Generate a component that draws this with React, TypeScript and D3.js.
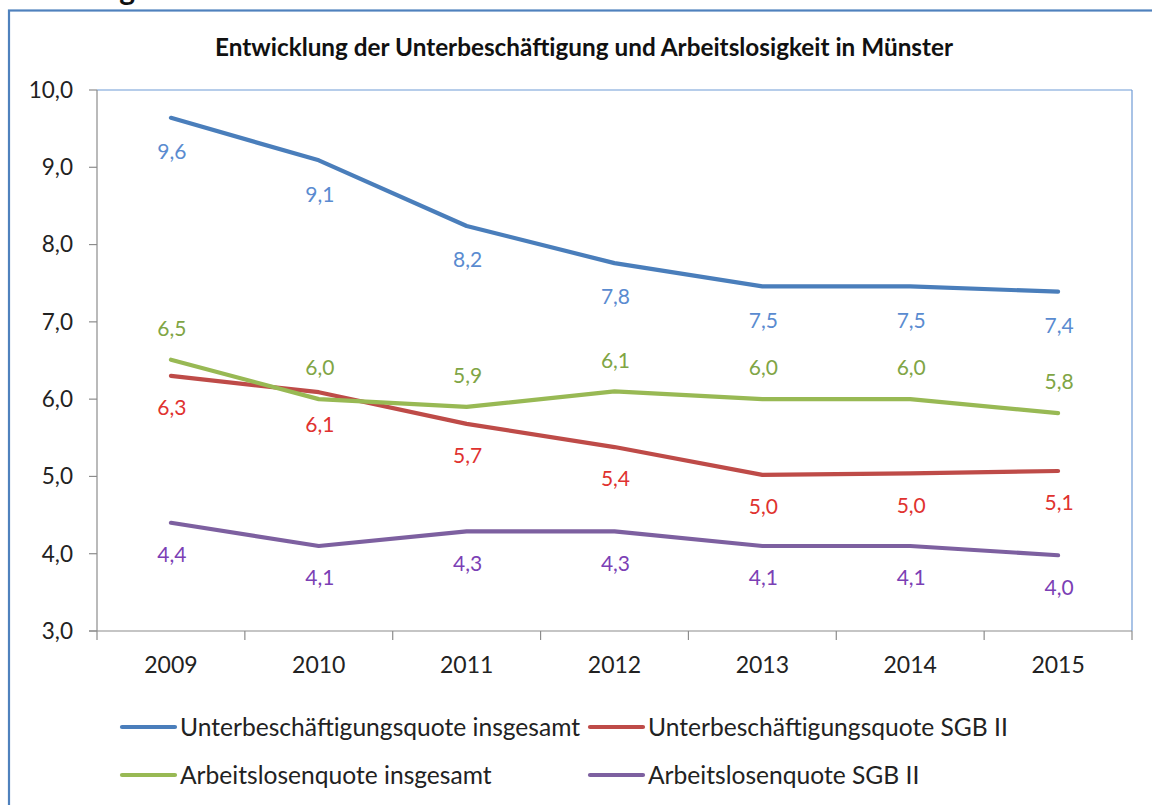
import React from 'react';
import * as d3 from 'd3';

const years = ['2009', '2010', '2011', '2012', '2013', '2014', '2015'];
const ubInsgesamt = [9.64, 9.09, 8.24, 7.76, 7.46, 7.46, 7.39];
const ubSgb2 = [6.3, 6.09, 5.68, 5.38, 5.02, 5.04, 5.07];
const alInsgesamt = [6.51, 6.0, 5.9, 6.1, 6.0, 6.0, 5.82];
const alSgb2 = [4.4, 4.1, 4.29, 4.29, 4.1, 4.1, 3.98];
const yTicks = [3, 4, 5, 6, 7, 8, 9, 10];

const seriesNames = [
  'Unterbeschäftigungsquote insgesamt',
  'Unterbeschäftigungsquote SGB II',
  'Arbeitslosenquote insgesamt',
  'Arbeitslosenquote SGB II',
];

const title = 'Entwicklung der Unterbeschäftigung und Arbeitslosigkeit in Münster';

const font = 'Lato, "Open Sans", sans-serif';
const textColor = '#222';
const axisColor = '#8c8c8c';

const fmt = (v: number) => v.toFixed(1).replace('.', ',');

const App = () => {
  const svgWidth = 1152;
  const svgHeight = 805;
  const plot = { left: 97, right: 1132, top: 90, bottom: 631 };

  const x = d3.scaleBand().domain(years).range([plot.left, plot.right]);
  const y = d3.scaleLinear().domain([3, 10]).range([plot.bottom, plot.top]);
  const xc = (d: string) => (x(d) as number) + x.bandwidth() / 2;

  const series = [
    { name: seriesNames[0], values: ubInsgesamt, color: '#4A7EBB', labelColor: '#5A8BD0', dy: 34 },
    { name: seriesNames[1], values: ubSgb2, color: '#BE4B48', labelColor: '#E0322F', dy: 32 },
    { name: seriesNames[2], values: alInsgesamt, color: '#98B954', labelColor: '#7FA545', dy: -31 },
    { name: seriesNames[3], values: alSgb2, color: '#7D60A0', labelColor: '#7B3FB5', dy: 32 },
  ];

  const line = d3.line<number>()
    .x((_, i) => xc(years[i]))
    .y(d => y(d));

  const legendPos = [
    { x: 122, y: 727 },
    { x: 590, y: 727 },
    { x: 122, y: 775 },
    { x: 590, y: 775 },
  ];

  return (
    <svg width={svgWidth} height={svgHeight} style={{ position: 'absolute', left: 0, top: 0 }} fontFamily={font}>
      <rect x={0} y={0} width={svgWidth} height={svgHeight} fill="#fff" />
      {/* cut-off caption above the chart */}
      <text x={135} y={0} textAnchor="end" fontSize={30} fontWeight="bold" fill="#111">Abbildung</text>
      {/* chart frame */}
      <rect x={9} y={10.5} width={1160} height={820} fill="none" stroke="#4F81BD" strokeWidth={2.2} />

      <text x={584} y={47} dy="0.35em" textAnchor="middle" fontSize={24.3} fontWeight="bold" fill="#111">{title}</text>

      {/* plot area border */}
      <line x1={plot.left} x2={plot.right} y1={plot.top} y2={plot.top} stroke="#6F9BD6" strokeWidth={1.2} />
      <line x1={plot.right} x2={plot.right} y1={plot.top} y2={plot.bottom} stroke="#6F9BD6" strokeWidth={1.2} />

      {/* y axis */}
      <g fontSize={22.5} fill={textColor} textAnchor="end">
        <line x1={plot.left} x2={plot.left} y1={plot.top} y2={plot.bottom} stroke={axisColor} strokeWidth={1.2} />
        {yTicks.map(t => (
          <g key={t} transform={`translate(0,${y(t)})`}>
            <line x1={plot.left - 8} x2={plot.left} stroke={axisColor} strokeWidth={1.2} />
            <text x={73} dy="0.35em" fill={textColor}>{fmt(t)}</text>
          </g>
        ))}
      </g>

      {/* x axis */}
      <g fontSize={23} textAnchor="middle">
        <line x1={plot.left - 8} x2={plot.right} y1={plot.bottom} y2={plot.bottom} stroke={axisColor} strokeWidth={1.2} />
        {[...years.map(d => x(d) as number), plot.right].map((p, i) => (
          <line key={i} x1={p} x2={p} y1={plot.bottom} y2={plot.bottom + 9} stroke={axisColor} strokeWidth={1.2} />
        ))}
        {years.map(d => (
          <text key={d} x={xc(d)} y={plot.bottom + 34} dy="0.35em" fill={textColor}>{d}</text>
        ))}
      </g>

      {/* lines */}
      {series.map(s => (
        <path key={s.name} d={line(s.values) || ''} fill="none" stroke={s.color} strokeWidth={4.2}
          strokeLinecap="round" strokeLinejoin="round" />
      ))}

      {/* data labels */}
      {series.map(s => (
        <g key={s.name + 'l'} fontSize={21} textAnchor="middle" fill={s.labelColor}>
          {s.values.map((v, i) => (
            <text key={i} x={xc(years[i]) + 1} y={y(v) + s.dy} dy="0.35em">{fmt(v)}</text>
          ))}
        </g>
      ))}

      {/* legend */}
      {series.map((s, i) => (
        <g key={s.name + 'g'} transform={`translate(${legendPos[i].x},${legendPos[i].y})`}>
          <line x1={0} x2={53} stroke={s.color} strokeWidth={4.2} strokeLinecap="round" />
          <text x={58} dy="0.35em" fontSize={24.6} fill={textColor}>{s.name}</text>
        </g>
      ))}
    </svg>
  );
};

export default App;
